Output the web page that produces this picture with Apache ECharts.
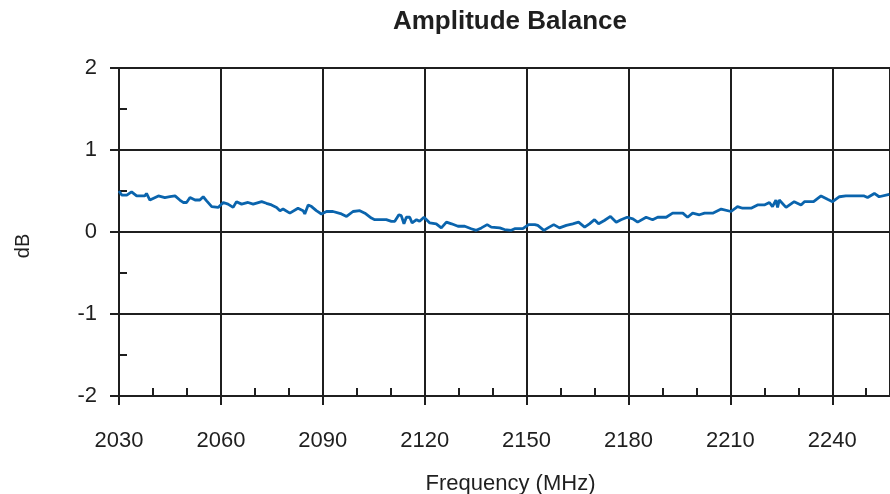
<!DOCTYPE html>
<html>
<head>
<meta charset="utf-8">
<script src="https://cdn.jsdelivr.net/npm/echarts@6/dist/echarts.min.js"></script>
<style>html,body{margin:0;padding:0;background:#fff}#c{width:890px;height:494px}</style>
</head>
<body>
<div id="c"></div>
<script>
const freq = [2030.0,2030.8,2032.3,2033.7,2035.2,2037.6,2038.1,2039.1,2041.6,2043.5,2045.0,2046.5,2047.9,2048.9,2049.9,2050.9,2052.4,2053.8,2054.8,2055.8,2057.3,2059.2,2060.7,2062.1,2063.6,2064.6,2066.1,2068.0,2069.5,2072.0,2073.4,2074.9,2076.4,2077.4,2078.3,2080.3,2082.7,2084.2,2084.7,2085.7,2086.7,2088.1,2089.6,2091.1,2093.0,2095.5,2097.0,2098.9,2100.9,2102.4,2104.3,2105.3,2108.7,2110.2,2111.2,2112.4,2113.1,2113.9,2114.6,2115.6,2116.3,2117.6,2118.5,2119.8,2121.5,2123.4,2124.9,2126.4,2127.9,2129.8,2131.8,2133.7,2135.2,2136.7,2138.4,2139.6,2142.1,2143.5,2145.5,2146.5,2148.9,2150.6,2152.4,2153.3,2155.1,2156.3,2158.0,2159.7,2161.7,2163.6,2165.3,2167.1,2168.5,2170.0,2171.2,2172.9,2174.7,2176.4,2177.8,2179.6,2181.3,2182.7,2185.2,2187.1,2188.6,2191.1,2193.0,2196.0,2197.4,2198.9,2200.9,2202.4,2204.8,2207.3,2210.2,2212.1,2213.6,2216.1,2218.0,2220.0,2221.5,2222.4,2223.4,2223.9,2224.4,2226.4,2228.8,2230.8,2231.8,2234.5,2236.7,2238.6,2240.1,2242.1,2244.0,2249.4,2250.4,2252.4,2253.8,2256.8];
const balanceDb = [0.50,0.45,0.45,0.49,0.44,0.44,0.47,0.39,0.44,0.42,0.43,0.44,0.39,0.36,0.36,0.42,0.39,0.39,0.43,0.38,0.31,0.30,0.36,0.34,0.30,0.37,0.34,0.36,0.34,0.37,0.35,0.33,0.30,0.26,0.28,0.23,0.29,0.26,0.22,0.33,0.31,0.26,0.22,0.25,0.25,0.22,0.19,0.25,0.26,0.23,0.17,0.15,0.15,0.13,0.13,0.21,0.20,0.10,0.18,0.18,0.11,0.15,0.13,0.18,0.11,0.10,0.05,0.12,0.10,0.07,0.07,0.04,0.02,0.05,0.09,0.06,0.05,0.03,0.02,0.04,0.04,0.09,0.09,0.08,0.02,0.05,0.09,0.05,0.08,0.10,0.12,0.06,0.10,0.15,0.10,0.14,0.19,0.12,0.15,0.18,0.16,0.12,0.18,0.15,0.18,0.18,0.23,0.23,0.18,0.23,0.21,0.23,0.23,0.28,0.25,0.31,0.29,0.29,0.33,0.33,0.36,0.31,0.39,0.30,0.39,0.30,0.37,0.33,0.37,0.37,0.44,0.40,0.37,0.43,0.44,0.44,0.42,0.47,0.43,0.46];
const xMin = 2030, xMax = 2257, xStep = 30, xMinorStep = 10;
const yMin = -2, yMax = 2, yStep = 1, yMinorStep = 0.5;
const titleText = 'Amplitude Balance';
const xName = 'Frequency (MHz)';
const yName = 'dB';

const ink = '#1f1f1f';
const font = 'Liberation Sans, Arial, Helvetica, sans-serif';
const chart = echarts.init(document.getElementById('c'));
const data = freq.map((f, i) => [f, balanceDb[i]]);
chart.setOption({
  animation: false,
  title: {text: titleText, left: 505, top: 4, textAlign: 'center',
    textStyle: {fontFamily: font, fontWeight: 'bold', fontSize: 26, color: ink}},
  grid: {left: 119, right: 0, top: 68, bottom: 98, containLabel: false, outerBoundsMode: 'none'},
  xAxis: [{
    type: 'value', min: xMin, max: xMax, interval: xStep,
    name: xName, nameLocation: 'middle', nameGap: 77,
    nameTextStyle: {fontFamily: font, fontSize: 22, color: ink, padding: [0, 0, 0, 12]},
    axisLine: {show: true, onZero: false, lineStyle: {color: ink, width: 2}},
    axisTick: {show: true, inside: false, length: 9, lineStyle: {color: ink, width: 2}},
    axisLabel: {showMaxLabel: false, margin: 34, fontFamily: font, fontSize: 22, color: ink,
      formatter: v => String(v)},
    splitLine: {show: true, lineStyle: {color: ink, width: 2}}
  }, {
    type: 'value', min: xMin, max: xMax, interval: xMinorStep, position: 'bottom',
    axisLine: {show: false, onZero: false}, axisLabel: {show: false}, splitLine: {show: false},
    axisTick: {show: true, inside: true, length: 8, lineStyle: {color: ink, width: 2}}
  }],
  yAxis: [{
    type: 'value', min: yMin, max: yMax, interval: yStep,
    name: yName, nameLocation: 'middle', nameGap: 86, nameRotate: 90,
    nameTextStyle: {fontFamily: font, fontSize: 20, color: ink, padding: [0, 28, 0, 0]},
    axisLine: {show: true, onZero: false, lineStyle: {color: ink, width: 2}},
    axisTick: {show: true, inside: false, length: 9, lineStyle: {color: ink, width: 2}},
    axisLabel: {margin: 22, fontFamily: font, fontSize: 22, color: ink},
    splitLine: {show: true, lineStyle: {color: ink, width: 2}}
  }, {
    type: 'value', min: yMin, max: yMax, interval: yMinorStep, position: 'left',
    axisLine: {show: false, onZero: false}, axisLabel: {show: false}, splitLine: {show: false},
    axisTick: {show: true, inside: true, length: 8, lineStyle: {color: ink, width: 2}}
  }],
  series: [{
    type: 'line', data: data, xAxisIndex: 0, yAxisIndex: 0,
    showSymbol: false, symbol: 'none', clip: true,
    lineStyle: {color: '#0a64ad', width: 2.8}
  }]
});
</script>
</body>
</html>
